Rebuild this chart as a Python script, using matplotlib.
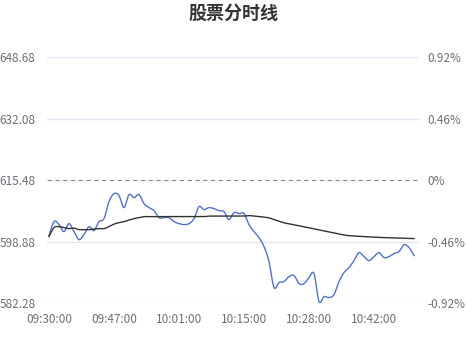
import matplotlib
matplotlib.use("Agg")
import matplotlib.pyplot as plt
import numpy as np

plt.rcParams['font.family'] = ['Noto Sans CJK SC', 'DejaVu Sans']

title = "股票分时线"
tick_labels = ["09:30:00", "09:47:00", "10:01:00", "10:15:00", "10:28:00", "10:42:00"]
tick_step = 13

price = [600.55, 604.33, 603.52, 601.63, 603.79, 601.63, 599.47, 600.82, 602.98, 601.90,
         604.33, 605.14, 609.73, 611.89, 611.35, 608.11, 611.62, 610.81, 611.62, 609.19,
         608.11, 607.30, 605.41, 605.41, 605.41, 604.33, 603.79, 603.52, 603.79, 605.14,
         608.38, 607.57, 608.11, 607.84, 607.30, 607.03, 604.87, 606.76, 606.49, 606.49,
         603.52, 601.63, 600.01, 597.59, 593.54, 586.52, 587.87, 588.14, 589.49, 589.76,
         587.60, 587.60, 589.22, 590.30, 582.74, 584.09, 583.82, 584.63, 588.14, 590.57,
         591.92, 593.81, 595.97, 594.89, 593.81, 594.89, 595.97, 594.62, 594.89, 595.70,
         596.24, 598.13, 597.32, 595.16]

avg_price = [600.28, 602.71, 602.98, 602.71, 602.44, 602.58, 602.17, 602.17, 602.17, 602.31,
             602.44, 602.44, 602.98, 603.66, 604.06, 604.33, 604.74, 605.14, 605.41, 605.68,
             605.68, 605.68, 605.68, 605.68, 605.68, 605.68, 605.68, 605.68, 605.68, 605.68,
             605.68, 605.68, 605.82, 605.82, 605.82, 605.82, 605.82, 605.82, 605.82, 605.82,
             605.95, 605.82, 605.68, 605.55, 605.33, 604.87, 604.41, 604.01, 603.74, 603.47,
             603.20, 602.93, 602.63, 602.39, 602.12, 601.85, 601.55, 601.28, 600.99, 600.72,
             600.53, 600.45, 600.37, 600.28, 600.20, 600.15, 600.07, 600.01, 599.96, 599.93,
             599.88, 599.83, 599.80, 599.75]

y_ticks = [582.28, 598.88, 615.48, 632.08, 648.68]
y_labels = ["582.28", "598.88", "615.48", "632.08", "648.68"]
pct_labels = ["-0.92%", "-0.46%", "0%", "0.46%", "0.92%"]
base_price = 615.48


def smooth_path(xs, ys, steps=10):
    """Catmull-Rom rendering of the line through the given points (line style only)."""
    xs = np.asarray(xs, float)
    ys = np.asarray(ys, float)
    px = np.concatenate([[xs[0]], xs, [xs[-1]]])
    py = np.concatenate([[ys[0]], ys, [ys[-1]]])
    outx, outy = [], []
    t = np.linspace(0, 1, steps, endpoint=False)
    for i in range(1, len(px) - 2):
        p0, p1, p2, p3 = py[i - 1], py[i], py[i + 1], py[i + 2]
        x0, x1, x2, x3 = px[i - 1], px[i], px[i + 1], px[i + 2]
        for a0, a1, a2, a3, out in ((x0, x1, x2, x3, outx), (p0, p1, p2, p3, outy)):
            out.extend(0.5 * ((2 * a1) + (-a0 + a2) * t
                              + (2 * a0 - 5 * a1 + 4 * a2 - a3) * t ** 2
                              + (-a0 + 3 * a1 - 3 * a2 + a3) * t ** 3))
    outx.append(xs[-1])
    outy.append(ys[-1])
    return np.array(outx), np.array(outy)


fig = plt.figure(figsize=(4.66, 3.63), dpi=100)
ax = fig.add_axes([0.1002, 0.1645, 0.799, 0.6775])

x = np.arange(len(price))
ax.set_xlim(-0.46, 74)
ax.set_ylim(y_ticks[0], y_ticks[-1])

for v in y_ticks:
    if v == base_price:
        ax.axhline(v, color="#8a8a8a", lw=0.8, ls=(0, (4, 3)), zorder=1)
    else:
        ax.axhline(v, color="#E0E6F1", lw=1.0, zorder=1)

sx, sy = smooth_path(x, price)
ax.plot(sx, sy, color="#5470C6", lw=1.0, zorder=3)
ax_, ay_ = smooth_path(x, avg_price)
ax.plot(ax_, ay_, color="#333333", lw=1.0, zorder=4)

ax.set_yticks(y_ticks)
ax.set_yticklabels(y_labels)
ax.set_xticks(np.arange(len(tick_labels)) * tick_step)
ax.set_xticklabels(tick_labels)
ax.tick_params(axis='both', length=0, labelsize=8.5, colors="#6E7079")
ax.tick_params(axis='y', pad=8)
ax.tick_params(axis='x', pad=7)
for s in ax.spines.values():
    s.set_visible(False)

ax2 = ax.twinx()
ax2.set_ylim(ax.get_ylim())
ax2.set_yticks(y_ticks)
ax2.set_yticklabels(pct_labels)
ax2.tick_params(axis='y', length=0, labelsize=8.5, colors="#6E7079", pad=6)
for s in ax2.spines.values():
    s.set_visible(False)

fig.text(0.5, 1 - 13 / 363, title, ha='center', va='center', fontsize=13,
         fontweight='bold', color="#333333")

fig.savefig("out.png", dpi=100)
